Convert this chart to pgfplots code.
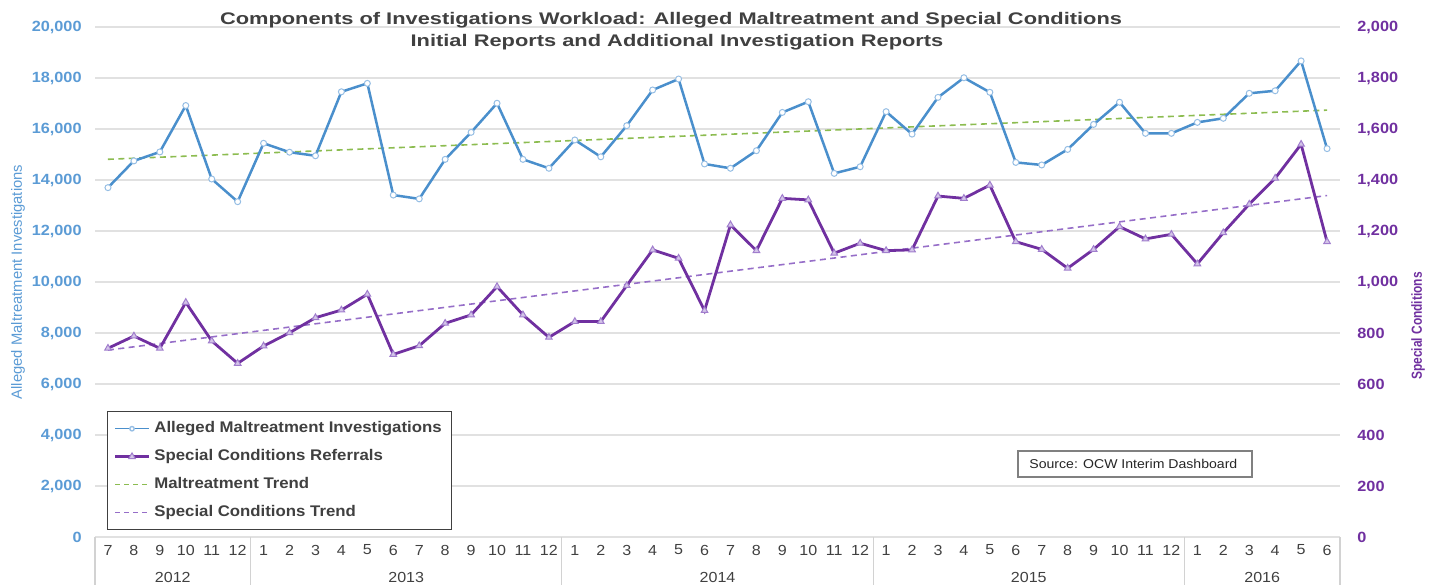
\documentclass[border=0pt]{standalone}
\usepackage{fontspec}
\setmainfont{Liberation Sans}
\usepackage{pgfplots}
\pgfplotsset{compat=1.18}
\newfontfamily\titlefont[FakeStretch=1.3]{Liberation Sans}
\newfontfamily\tickfont[FakeStretch=1.1]{Liberation Sans}
\newfontfamily\legfont[FakeStretch=1.09]{Liberation Sans}
\newfontfamily\narrowfont[FakeStretch=0.82]{Liberation Sans}
\definecolor{cblue}{RGB}{74,143,204}
\definecolor{cbluetick}{RGB}{91,155,213}
\definecolor{cblmark}{RGB}{150,190,228}
\definecolor{cpurple}{RGB}{112,48,160}
\definecolor{cpurmark}{RGB}{160,125,205}
\definecolor{cgreen}{RGB}{140,188,80}
\definecolor{cptrend}{RGB}{150,110,200}
\definecolor{cgrid}{RGB}{225,225,225}
\definecolor{ctext}{RGB}{64,64,64}
\definecolor{csep}{RGB}{210,210,210}

\pgfplotstableread{
i  v
0  13700
1  14750
2  15100
3  16920
4  14040
5  13150
6  15440
7  15090
8  14950
9  17460
10 17790
11 13410
12 13260
13 14810
14 15870
15 17010
16 14810
17 14460
18 15570
19 14910
20 16130
21 17530
22 17960
23 14630
24 14460
25 15150
26 16650
27 17070
28 14260
29 14520
30 16680
31 15800
32 17240
33 18010
34 17440
35 14690
36 14590
37 15200
38 16180
39 17050
40 15830
41 15830
42 16260
43 16420
44 17400
45 17500
46 18670
47 15230
}\maltab

\pgfplotstableread{
i  v
0  740
1  788
2  740
3  920
4  769
5  681
6  749
7  801
8  860
9  890
10 952
11 716
12 750
13 838
14 871
15 982
16 871
17 783
18 845
19 845
20 986
21 1126
22 1093
23 888
24 1224
25 1123
26 1328
27 1322
28 1113
29 1152
30 1123
31 1126
32 1337
33 1328
34 1380
35 1158
36 1128
37 1054
38 1128
39 1217
40 1169
41 1187
42 1071
43 1193
44 1305
45 1407
46 1540
47 1158
}\spectab

\begin{document}
\begin{tikzpicture}
\path[use as bounding box] (-47.5pt,-24pt) rectangle (672pt,268.5pt);

\begin{axis}[
  at={(0pt,0pt)}, anchor=south west,
  scale only axis, width=622.5pt, height=255pt,
  xmin=-0.5, xmax=47.5, ymin=0, ymax=20000,
  clip=false,
  axis line style={draw=none},
  major tick length=0pt,
  ymajorgrids, grid style={cgrid, line width=0.6pt},
  ytick={0,2000,...,20000},
  scaled y ticks=false,
  yticklabel style={/pgf/number format/1000 sep={,}, /pgf/number format/assume math mode=true,
    font=\tickfont\bfseries\fontsize{7.4}{8}\selectfont, text=cbluetick,
    anchor=east, inner sep=0pt, xshift=-6.5pt},
  xtick={0,...,47},
  xticklabels={7,8,9,10,11,12,1,2,3,4,5,6,7,8,9,10,11,12,1,2,3,4,5,6,7,8,9,10,11,12,1,2,3,4,5,6,7,8,9,10,11,12,1,2,3,4,5,6},
  xticklabel style={font=\tickfont\fontsize{7.3}{8}\selectfont, text=ctext,
    anchor=center, inner sep=0pt, yshift=-6.5pt},
]
\addplot[cgreen, line width=0.8pt, dash pattern=on 3pt off 2.2pt] coordinates {(0,14812) (47,16740)};
\addplot[cblue, line width=1.25pt, mark=*, mark size=1.5pt,
  mark options={fill=white, draw=cblmark, line width=0.5pt, solid}] table[x=i,y=v] {\maltab};
\foreach \s in {-0.5,5.5,17.5,29.5,41.5,47.5} {
  \edef\tmp{\noexpand\draw[csep, line width=0.6pt] (axis cs:\s,0) -- ++(0pt,-24pt);}\tmp
}
\foreach \p/\yr in {2.5/2012,11.5/2013,23.5/2014,35.5/2015,44.5/2016} {
  \edef\tmp{\noexpand\node[font=\noexpand\tickfont\noexpand\fontsize{7.3}{8}\noexpand\selectfont, text=ctext, inner sep=0pt] at (axis cs:\p,0) [yshift=-20pt] {\yr};}\tmp
}
\end{axis}

\begin{axis}[
  at={(0pt,0pt)}, anchor=south west,
  scale only axis, width=622.5pt, height=255pt,
  xmin=-0.5, xmax=47.5, ymin=0, ymax=2000,
  hide x axis,
  axis line style={draw=none},
  major tick length=0pt,
  yticklabel pos=right,
  ytick={0,200,...,2000},
  scaled y ticks=false,
  yticklabel style={/pgf/number format/1000 sep={,}, /pgf/number format/assume math mode=true,
    font=\tickfont\bfseries\fontsize{7.4}{8}\selectfont, text=cpurple,
    anchor=west, inner sep=0pt, xshift=8.5pt},
  legend cell align=left,
  legend style={at={(0.00964,0.247)}, anchor=north west,
    draw=ctext, line width=0.6pt, fill=white,
    font=\legfont\bfseries\fontsize{7.7}{9}\selectfont, text=ctext,
    inner xsep=3pt, inner ysep=3pt, row sep=2.9pt},
  legend image code/.code={
    \draw[mark repeat=2, mark phase=2, #1] plot coordinates {(0pt,0pt) (8.5pt,0pt) (17pt,0pt)};},
]
\addlegendimage{cblue, line width=0.7pt, mark=*, mark size=1.1pt, mark options={fill=white, draw=cblmark, solid}}
\addlegendentry{Alleged Maltreatment Investigations}
\addplot[cptrend, line width=0.8pt, dash pattern=on 3pt off 2.2pt, forget plot] coordinates {(0,733) (47,1339)};
\addplot[cpurple, line width=1.4pt, mark=triangle*, mark size=1.9pt,
  mark options={fill=cpurmark!45, draw=cpurmark, line width=0.5pt, solid}] table[x=i,y=v] {\spectab};
\addlegendentry{Special Conditions Referrals}
\addlegendimage{cgreen, line width=0.7pt, dash pattern=on 2.5pt off 2pt}
\addlegendentry{Maltreatment Trend}
\addlegendimage{cptrend, line width=0.7pt, dash pattern=on 2.5pt off 2pt}
\addlegendentry{Special Conditions Trend}
\end{axis}

% titles and labels
\node[font=\titlefont\bfseries\fontsize{8.4}{9}\selectfont, text=ctext, anchor=base, inner sep=0pt] at (288pt,256.3pt) {Components of Investigations Workload: Alleged Maltreatment and Special Conditions};
\node[font=\titlefont\bfseries\fontsize{8.4}{9}\selectfont, text=ctext, anchor=base, inner sep=0pt] at (291pt,245.3pt) {Initial Reports and Additional Investigation Reports};
\node[font=\fontsize{7.4}{8}\selectfont, text=cbluetick, rotate=90, inner sep=0pt] at (-38.5pt,127.5pt) {Alleged Maltreatment Investigations};
\node[font=\narrowfont\bfseries\fontsize{7.3}{8}\selectfont, text=cpurple, rotate=90, inner sep=0pt] at (661.5pt,105.5pt) {Special Conditions};
% source box
\draw[gray, line width=0.6pt, fill=white] (461.5pt,30pt) rectangle (578.5pt,43pt);
\node[font=\tickfont\fontsize{6.4}{7}\selectfont, text=black!85, anchor=west, inner sep=0pt] at (467pt,36.5pt) {Source: OCW Interim Dashboard};
\end{tikzpicture}
\end{document}
